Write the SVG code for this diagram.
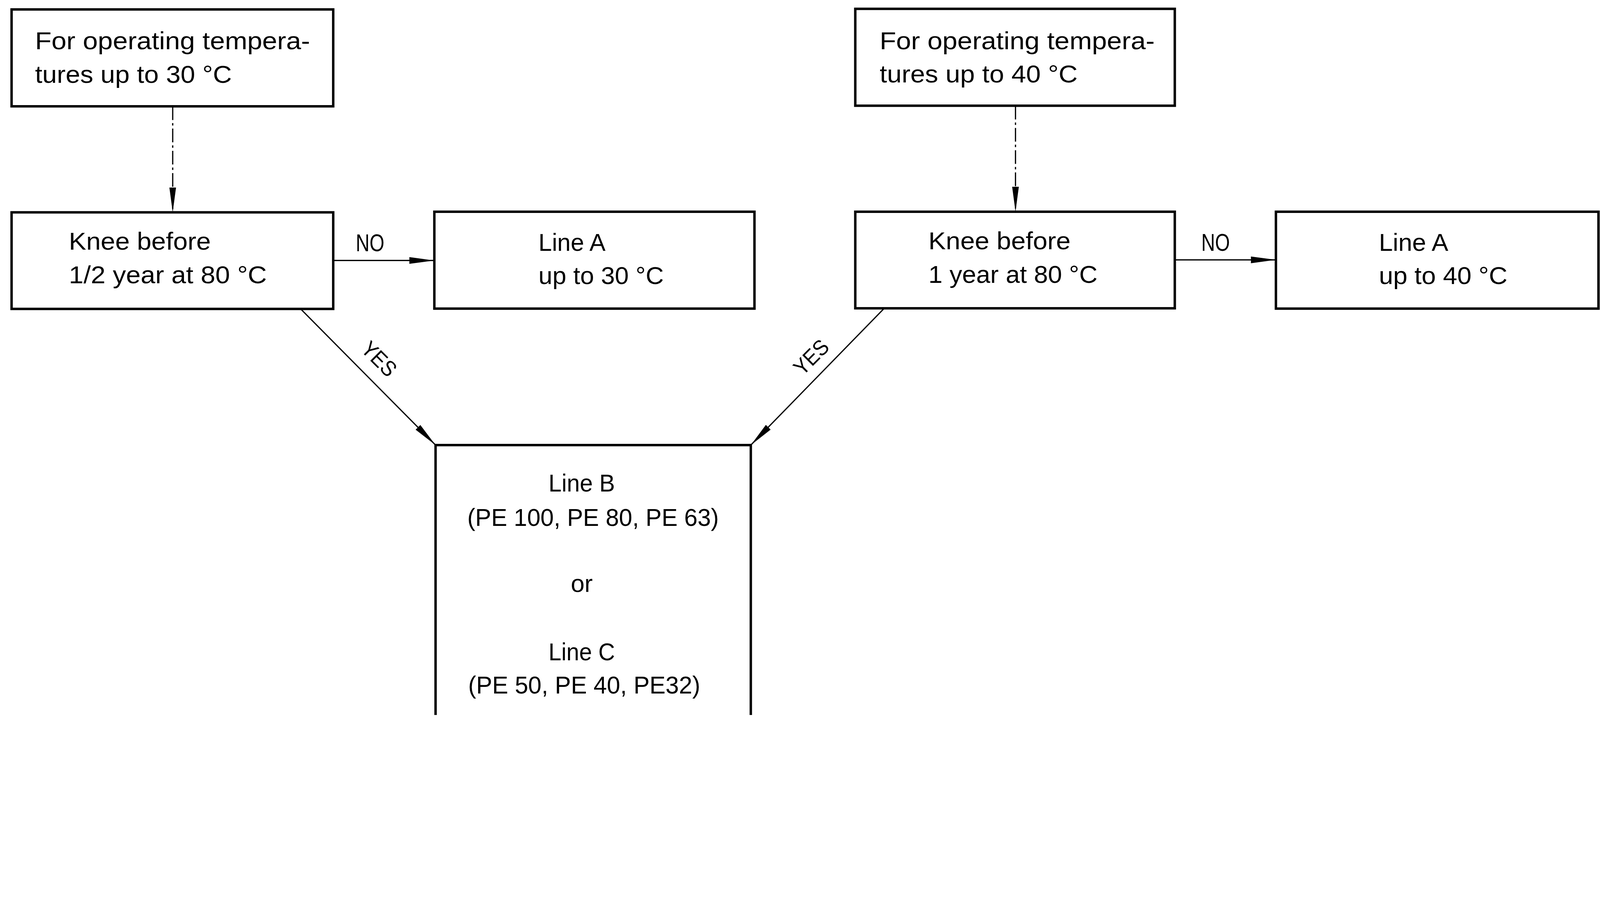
<svg xmlns="http://www.w3.org/2000/svg" width="5253" height="2347" viewBox="0 0 5253 2347" style="max-width:100%;height:auto">
<style>
.box{fill:#fff;stroke:#000;stroke-width:8}
.t{font-family:"Liberation Sans","DejaVu Sans",sans-serif;font-size:80px;fill:#000}
.lbl{font-family:"Liberation Sans","DejaVu Sans",sans-serif;font-size:72px;fill:#000;text-anchor:middle}
.c{fill:none;stroke:#000;stroke-width:4}
.dd{stroke-dasharray:45 10 8 10}
</style>
<defs>
<marker id="ah" markerUnits="userSpaceOnUse" viewBox="0 0 84 24" markerWidth="84" markerHeight="24" refX="82" refY="12" orient="auto">
<path d="M0,1 L82,12 L0,23 Z" fill="#000"/>
</marker>
</defs>
<rect width="5253" height="2347" fill="#fff"/>
<g id="connectors">
<line class="c dd" x1="567" y1="349" x2="567" y2="697" marker-end="url(#ah)"/>
<line class="c dd" x1="3334" y1="347" x2="3334" y2="695" marker-end="url(#ah)"/>
<line class="c" x1="1094" y1="855" x2="1426" y2="855" marker-end="url(#ah)"/>
<line class="c" x1="3857" y1="853" x2="4189" y2="853" marker-end="url(#ah)"/>
<line class="c" x1="987" y1="1014" x2="1430" y2="1461" marker-end="url(#ah)"/>
<line class="c" x1="2903" y1="1012" x2="2465" y2="1461" marker-end="url(#ah)"/>
<text class="t" x="1168" y="825" textLength="94" lengthAdjust="spacingAndGlyphs">NO</text>
<text class="t" x="3944" y="823" textLength="94" lengthAdjust="spacingAndGlyphs">NO</text>
<text class="lbl" transform="translate(1245,1178) rotate(45)" x="0" y="25" textLength="130" lengthAdjust="spacingAndGlyphs">YES</text>
<text class="lbl" transform="translate(2663,1172) rotate(-45)" x="0" y="25" textLength="130" lengthAdjust="spacingAndGlyphs">YES</text>
</g>
<g id="box1">
<rect class="box" x="38" y="31" width="1056" height="318"/>
<text class="t" x="115" y="162" textLength="903" lengthAdjust="spacingAndGlyphs">For operating tempera-</text>
<text class="t" x="115" y="272" textLength="646" lengthAdjust="spacingAndGlyphs">tures up to 30 °C</text>
</g>
<g id="box2">
<rect class="box" x="38" y="697" width="1056" height="317"/>
<text class="t" x="226" y="820" textLength="466" lengthAdjust="spacingAndGlyphs">Knee before</text>
<text class="t" x="226" y="930" textLength="650" lengthAdjust="spacingAndGlyphs">1/2 year at 80 °C</text>
</g>
<g id="box3">
<rect class="box" x="1426" y="695" width="1051" height="318"/>
<text class="t" x="1768" y="823" textLength="220" lengthAdjust="spacingAndGlyphs">Line A</text>
<text class="t" x="1768" y="932" textLength="411" lengthAdjust="spacingAndGlyphs">up to 30 °C</text>
</g>
<g id="box4">
<rect class="box" x="2808" y="29" width="1049" height="318"/>
<text class="t" x="2888" y="162" textLength="903" lengthAdjust="spacingAndGlyphs">For operating tempera-</text>
<text class="t" x="2888" y="270" textLength="650" lengthAdjust="spacingAndGlyphs">tures up to 40 °C</text>
</g>
<g id="box5">
<rect class="box" x="2808" y="695" width="1049" height="317"/>
<text class="t" x="3048" y="818" textLength="467" lengthAdjust="spacingAndGlyphs">Knee before</text>
<text class="t" x="3048" y="928" textLength="555" lengthAdjust="spacingAndGlyphs">1 year at 80 °C</text>
</g>
<g id="box6">
<rect class="box" x="4189" y="695" width="1059" height="318"/>
<text class="t" x="4527" y="823" textLength="228" lengthAdjust="spacingAndGlyphs">Line A</text>
<text class="t" x="4527" y="932" textLength="422" lengthAdjust="spacingAndGlyphs">up to 40 °C</text>
</g>
<g id="box7">
<rect class="box" x="1430" y="1461" width="1035" height="950"/>
<text class="t" x="1801" y="1614" textLength="218" lengthAdjust="spacingAndGlyphs">Line B</text>
<text class="t" x="1534" y="1726" textLength="826" lengthAdjust="spacingAndGlyphs">(PE 100, PE 80, PE 63)</text>
<text class="t" x="1874" y="1943" textLength="72" lengthAdjust="spacingAndGlyphs">or</text>
<text class="t" x="1801" y="2168" textLength="218" lengthAdjust="spacingAndGlyphs">Line C</text>
<text class="t" x="1537" y="2276" textLength="762" lengthAdjust="spacingAndGlyphs">(PE 50, PE 40, PE32)</text>
</g>
</svg>
